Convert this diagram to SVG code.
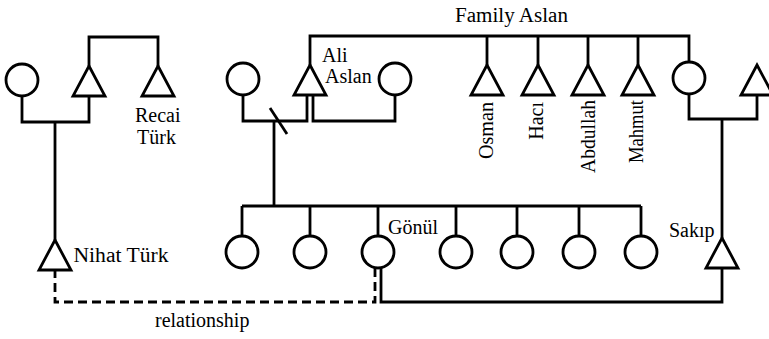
<svg xmlns="http://www.w3.org/2000/svg" width="769" height="339" viewBox="0 0 769 339">
<style>
.s{fill:none;stroke:#000;stroke-width:2.8;stroke-linejoin:miter;stroke-linecap:butt}
.d{fill:none;stroke:#000;stroke-width:2.8;stroke-dasharray:9 5}
.n{fill:#fff;stroke:#000;stroke-width:2.8}
text{font-family:"Liberation Serif","Times New Roman",serif;font-size:20px;fill:#000}
</style>
<defs>
<path id="tri" d="M0,0 L16,30 L-16,30 Z"/>
</defs>
<rect width="769" height="339" fill="#fff"/>
<g id="connectors">
<path class="s" d="M89,66 V37 H158 V66"/>
<path class="s" d="M22,96 V122 H89 V96"/>
<path class="s" d="M55,122 V240"/>
<path class="s" d="M243,95 V121 H307 V95"/>
<path class="s" d="M313,95 V121 H395 V95"/>
<path class="s" d="M270,108 L287,134"/>
<path class="s" d="M274,121 V206"/>
<path class="s" d="M310,65 V36 H689 V62"/>
<path class="s" d="M487,36 V65 M538,36 V65 M588,36 V65 M638,36 V65"/>
<path class="s" d="M689,94 V119 H757 V95"/>
<path class="s" d="M722,119 V238"/>
<path class="s" d="M242,206 H641 M242,206 V236 M310,206 V236 M378,206 V236 M456,206 V236 M517,206 V236 M579,206 V236 M641,206 V236"/>
<path class="s" d="M381,268 V302 H722 V267"/>
<path class="d" d="M55,269 V302 H375 V268"/>
</g>
<g id="turk-mother"><circle class="n" cx="22" cy="80" r="16"/></g>
<g id="turk-father"><use href="#tri" class="n" x="89" y="66"/></g>
<g id="recai-turk"><use href="#tri" class="n" x="158" y="66"/><text x="135" y="122">Recai</text><text x="137" y="144">Türk</text></g>
<g id="nihat-turk"><use href="#tri" class="n" x="55" y="240"/><text x="73.5" y="262" textLength="95" lengthAdjust="spacingAndGlyphs">Nihat Türk</text></g>
<g id="ali-wife1"><circle class="n" cx="243" cy="79" r="16"/></g>
<g id="ali-aslan"><use href="#tri" class="n" x="310" y="65"/><text x="322" y="62">Ali</text><text x="325" y="83">Aslan</text></g>
<g id="ali-wife2"><circle class="n" cx="395" cy="79" r="16"/></g>
<g id="family-label"><text x="455" y="21.5" textLength="113" lengthAdjust="spacingAndGlyphs">Family Aslan</text></g>
<g id="osman"><use href="#tri" class="n" x="487" y="65"/><text transform="translate(493,102) rotate(-90)" text-anchor="end" textLength="57" lengthAdjust="spacingAndGlyphs">Osman</text></g>
<g id="haci"><use href="#tri" class="n" x="538" y="65"/><text transform="translate(543,102) rotate(-90)" text-anchor="end">Hacı</text></g>
<g id="abdullah"><use href="#tri" class="n" x="588" y="65"/><text transform="translate(595,100) rotate(-90)" text-anchor="end" textLength="73" lengthAdjust="spacingAndGlyphs">Abdullah</text></g>
<g id="mahmut"><use href="#tri" class="n" x="638" y="65"/><text transform="translate(643,100) rotate(-90)" text-anchor="end" textLength="63" lengthAdjust="spacingAndGlyphs">Mahmut</text></g>
<g id="sakip-mother"><circle class="n" cx="689" cy="78" r="16"/></g>
<g id="sakip-father"><use href="#tri" class="n" x="757" y="65"/></g>
<g id="child1"><circle class="n" cx="242" cy="252" r="16"/></g>
<g id="child2"><circle class="n" cx="310" cy="252" r="16"/></g>
<g id="gonul"><circle class="n" cx="378" cy="252" r="16"/><text x="388" y="234">Gönül</text></g>
<g id="child4"><circle class="n" cx="456" cy="252" r="16"/></g>
<g id="child5"><circle class="n" cx="517" cy="252" r="16"/></g>
<g id="child6"><circle class="n" cx="579" cy="252" r="16"/></g>
<g id="child7"><circle class="n" cx="641" cy="252" r="16"/></g>
<g id="sakip"><use href="#tri" class="n" x="722" y="238"/><text x="669" y="237">Sakıp</text></g>
<g id="relationship-label"><text x="155" y="327">relationship</text></g>
</svg>
